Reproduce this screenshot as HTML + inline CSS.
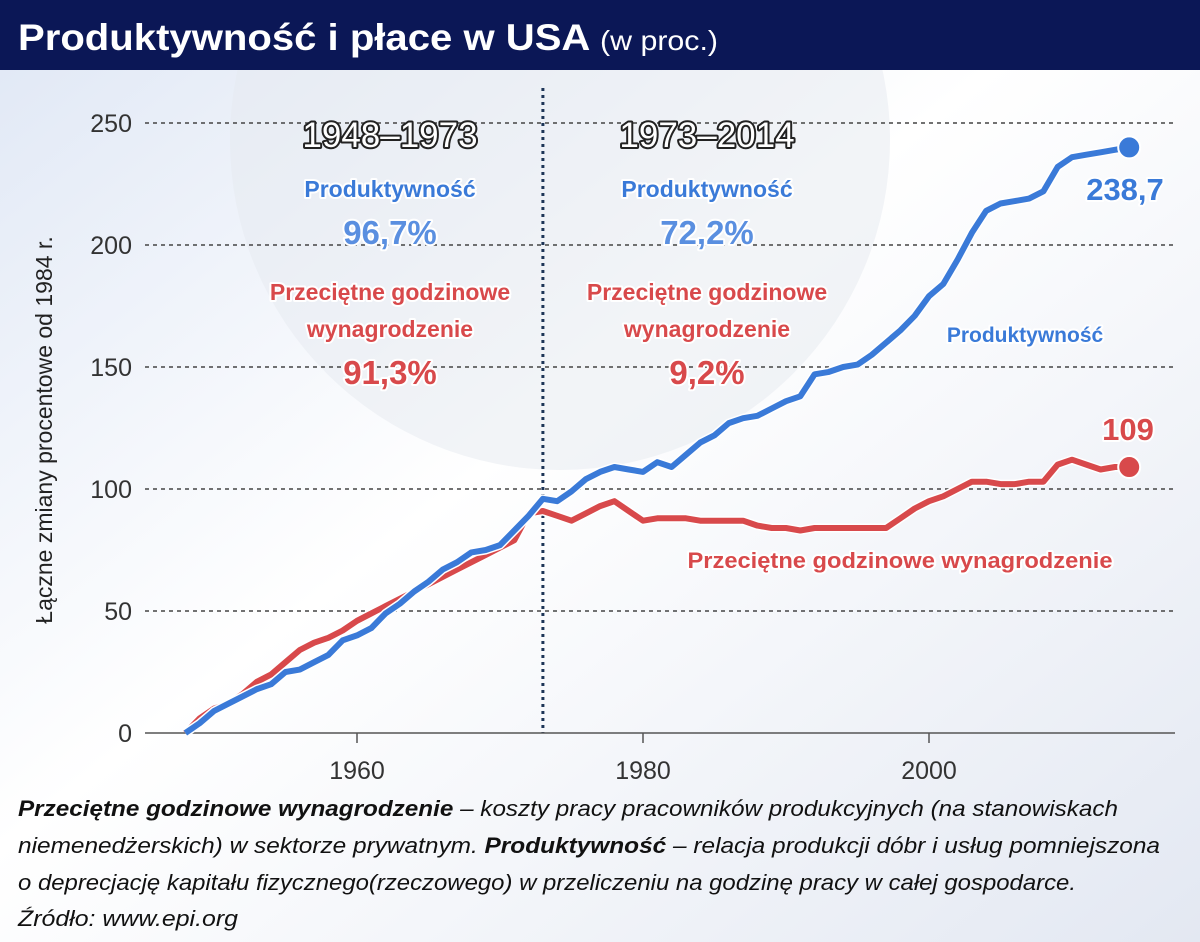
<!DOCTYPE html>
<html><head><meta charset="utf-8"><style>
html,body{margin:0;padding:0;width:1200px;height:942px;overflow:hidden;font-family:"Liberation Sans",sans-serif;}
svg text{font-family:"Liberation Sans",sans-serif;}
</style></head><body>
<svg id="chart" width="1200" height="942" viewBox="0 0 1200 942" xmlns="http://www.w3.org/2000/svg">
<defs>
<linearGradient id="bg" x1="0" y1="0" x2="1" y2="1">
<stop offset="0" stop-color="#dfe7f5"/><stop offset="0.45" stop-color="#ffffff"/><stop offset="1" stop-color="#e3e8f2"/>
</linearGradient>
</defs>
<rect x="0" y="0" width="1200" height="942" fill="url(#bg)"/>
<circle cx="560" cy="140" r="330" fill="#e6e9f0" opacity="0.5"/>
<rect x="0" y="0" width="1200" height="70" fill="#0b1756"/>
<text x="18" y="50" fill="#fff" font-size="37" font-weight="bold" textLength="700" lengthAdjust="spacingAndGlyphs">Produktywność i płace w USA <tspan font-size="28" font-weight="normal">(w proc.)</tspan></text>
<g id="grid"></g>
<g id="axes"></g>
<g id="series"></g>
<text transform="translate(52,430) rotate(-90)" text-anchor="middle" font-size="23" fill="#222">Łączne zmiany procentowe od 1984 r.</text>
<g font-size="23" font-weight="bold" text-anchor="middle" stroke-linejoin="round" style="paint-order:stroke">
<text x="390" y="147" font-size="35" font-weight="normal" fill="#fff" stroke="#222" stroke-width="4">1948–1973</text>
<text x="390" y="197" fill="#3a7ad8" stroke="#fff" stroke-width="4">Produktywność</text>
<text x="390" y="244" font-size="33" fill="#5a8fe0" stroke="#fff" stroke-width="4">96,7%</text>
<text x="390" y="300" fill="#d8494b" stroke="#fff" stroke-width="4">Przeciętne godzinowe</text>
<text x="390" y="337" fill="#d8494b" stroke="#fff" stroke-width="4">wynagrodzenie</text>
<text x="390" y="384" font-size="33" fill="#d8494b" stroke="#fff" stroke-width="4">91,3%</text>
<text x="707" y="147" font-size="35" font-weight="normal" fill="#fff" stroke="#222" stroke-width="4">1973–2014</text>
<text x="707" y="197" fill="#3a7ad8" stroke="#fff" stroke-width="4">Produktywność</text>
<text x="707" y="244" font-size="33" fill="#5a8fe0" stroke="#fff" stroke-width="4">72,2%</text>
<text x="707" y="300" fill="#d8494b" stroke="#fff" stroke-width="4">Przeciętne godzinowe</text>
<text x="707" y="337" fill="#d8494b" stroke="#fff" stroke-width="4">wynagrodzenie</text>
<text x="707" y="384" font-size="33" fill="#d8494b" stroke="#fff" stroke-width="4">9,2%</text>
<text x="1025" y="342" font-size="21" fill="#3a7ad8" stroke="#fff" stroke-width="4">Produktywność</text>
<text x="900" y="568" font-size="22" fill="#d8494b" stroke="#fff" stroke-width="4" textLength="425" lengthAdjust="spacingAndGlyphs">Przeciętne godzinowe wynagrodzenie</text>
<text x="1125" y="200" font-size="31" fill="#3a7ad8" stroke="#fff" stroke-width="4">238,7</text>
<text x="1128" y="440" font-size="31" fill="#d8494b" stroke="#fff" stroke-width="4">109</text>
</g>
<g font-size="22" fill="#111" font-style="italic">
<text x="18" y="816" textLength="1100" lengthAdjust="spacingAndGlyphs"><tspan font-weight="bold">Przeciętne godzinowe wynagrodzenie</tspan> – koszty pracy pracowników produkcyjnych (na stanowiskach</text>
<text x="18" y="853" textLength="1142" lengthAdjust="spacingAndGlyphs">niemenedżerskich) w sektorze prywatnym. <tspan font-weight="bold">Produktywność</tspan> – relacja produkcji dóbr i usług pomniejszona</text>
<text x="18" y="890" textLength="1058" lengthAdjust="spacingAndGlyphs">o deprecjację kapitału fizycznego(rzeczowego) w przeliczeniu na godzinę pracy w całej gospodarce.</text>
<text x="18" y="926" textLength="220" lengthAdjust="spacingAndGlyphs">Źródło: www.epi.org</text>
</g>
</svg>
<script>
const years = [];
for (let y = 1948; y <= 2014; y++) years.push(y);
const productivity = [0,4,9,12,15,18,20,25,26,29,32,38,40,43,49,53,58,62,67,70,74,75,77,83,89,96,95,99,104,107,109,108,107,111,109,114,119,122,127,129,130,133,136,138,147,148,150,151,155,160,165,171,179,184,194,205,214,217,218,219,222,232,236,237,238,239,240];
const wages = [0,6,10,12,16,21,24,29,34,37,39,42,46,49,52,55,58,61,64,67,70,73,76,79,90,91,89,87,90,93,95,91,87,88,88,88,87,87,87,87,85,84,84,83,84,84,84,84,84,84,88,92,95,97,100,103,103,102,102,103,103,110,112,110,108,109,109];
const yTicks = [0,50,100,150,200,250];
const xTicks = [1960,1980,2000];
const NS = 'http://www.w3.org/2000/svg';
const xS = y => 185.4 + (y - 1948) * 14.3;
const yS = v => 733 - v * 2.44;
function mk(tag, attrs, parent){const e=document.createElementNS(NS,tag);for(const k in attrs)e.setAttribute(k,attrs[k]);parent.appendChild(e);return e;}
const grid=document.getElementById('grid'), axes=document.getElementById('axes'), series=document.getElementById('series');
yTicks.forEach(t=>{
  if(t>0){const l=mk('line',{x1:145,x2:1175,y1:yS(t),y2:yS(t),stroke:'#444','stroke-width':1.5,'stroke-dasharray':'4 4'},grid);
  
  }
  const tx=mk('text',{x:132,y:yS(t)+9,'text-anchor':'end','font-size':25,fill:'#333'},axes);
  tx.textContent=t;
  
  
});
const ax=mk('line',{x1:145,x2:1175,y1:yS(0),y2:yS(0),stroke:'#555','stroke-width':1.5},axes);


xTicks.forEach(t=>{
  const tk=mk('line',{x1:xS(t),x2:xS(t),y1:yS(0),y2:yS(0)+10,stroke:'#555','stroke-width':1.5},axes);
  
  
  const tx=mk('text',{x:xS(t),y:yS(0)+46,'text-anchor':'middle','font-size':25,fill:'#333'},axes);
  tx.textContent=t;
  
  
});
const div=mk('line',{x1:xS(1973),x2:xS(1973),y1:88,y2:yS(0),stroke:'#1d3557','stroke-width':3,'stroke-dasharray':'3 4'},grid);


function drawLine(vals,color,name){
  const d=vals.map((v,i)=>(i?'L':'M')+xS(years[i]).toFixed(1)+' '+yS(v).toFixed(1)).join(' ');
  const sh=mk('path',{d:d,fill:'none',stroke:'#fff','stroke-width':9,'stroke-linejoin':'round'},series);
  
  
  const p=mk('path',{d:d,fill:'none',stroke:color,'stroke-width':6,'stroke-linejoin':'round'},series);
  
  
  const n=vals.length-1;
  const c=mk('circle',{cx:xS(years[n]),cy:yS(vals[n]),r:11,fill:color,stroke:'#fff','stroke-width':2},series);
  
  
}
drawLine(wages,'#d8494b','wages');
drawLine(productivity,'#3a7ad8','productivity');
</script>
</body></html>
